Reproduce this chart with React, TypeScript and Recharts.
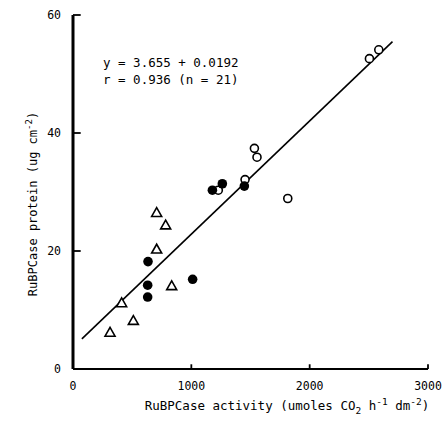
import React from 'react';
import { ScatterChart, Scatter, XAxis, YAxis, ReferenceLine, Label } from 'recharts';

// filled circles
const filledX = [634, 1011, 631, 631, 1178, 1262, 1448];
const filledY = [18.2, 15.2, 14.2, 12.2, 30.3, 31.4, 31.0];
// open circles
const openX = [1228, 1454, 1533, 1555, 1815, 2505, 2584];
const openY = [30.3, 32.1, 37.4, 35.9, 28.9, 52.6, 54.1];
// open triangles
const triX = [707, 783, 707, 834, 411, 510, 313];
const triY = [26.5, 24.4, 20.3, 14.1, 11.2, 8.2, 6.2];

const xTicks = [0, 1000, 2000, 3000];
const yTicks = [0, 20, 40, 60];

// regression: y = 3.655 + 0.0192x, drawn over this x range
const intercept = 3.655;
const slope = 0.0192;
const fitRange = [75, 2700];

const FONT = '"DejaVu Sans Mono", "Liberation Mono", monospace';

const toPoints = (xs: number[], ys: number[]) => xs.map((x, i) => ({ x, y: ys[i] }));

const FilledDot = ({ cx, cy }: any) => <circle cx={cx} cy={cy} r={4.8} fill="#000" />;
const OpenDot = ({ cx, cy }: any) => (
  <circle cx={cx} cy={cy} r={4} fill="#fff" stroke="#000" strokeWidth={1.6} />
);
const Triangle = ({ cx, cy }: any) => (
  <path
    d={`M${cx},${cy - 5} L${cx + 5},${cy + 3.8} L${cx - 5},${cy + 3.8} Z`}
    fill="#fff"
    stroke="#000"
    strokeWidth={1.6}
  />
);

const XLabel = () => (
  <text x={287} y={410} textAnchor="middle" fontFamily={FONT} fontSize={12.5} fill="#000">
    RuBPCase activity (umoles CO
    <tspan dy={4} fontSize={9.5}>2</tspan>
    <tspan dy={-4}> h</tspan>
    <tspan dy={-5} fontSize={9.5}>-1</tspan>
    <tspan dy={5}> dm</tspan>
    <tspan dy={-5} fontSize={9.5}>-2</tspan>
    <tspan dy={5}>)</tspan>
  </text>
);

const YLabel = () => (
  <text
    x={0}
    y={0}
    transform="translate(37,204) rotate(-90)"
    textAnchor="middle"
    fontFamily={FONT}
    fontSize={12}
    fill="#000"
  >
    RuBPCase protein (ug cm
    <tspan dy={-5} fontSize={9}>-2</tspan>
    <tspan dy={5}>)</tspan>
  </text>
);

export default function App() {
  const fit = fitRange.map((x) => ({ x, y: intercept + slope * x }));
  const tickStyle = { fontFamily: FONT, fontSize: 11.5, fill: '#000' };
  return (
    <div style={{ position: 'absolute', left: 0, top: 0, width: 443, height: 421, background: '#fff' }}>
      <ScatterChart width={443} height={421} margin={{ top: 15, right: 15, bottom: 0, left: 0 }}>
        <XAxis
          type="number"
          dataKey="x"
          domain={[0, 3000]}
          ticks={xTicks}
          height={52}
          tickLine={false}
          axisLine={false}
          tickSize={6}
          tickMargin={7}
          tick={tickStyle}
        >
          <Label content={<XLabel />} />
        </XAxis>
        <YAxis
          type="number"
          dataKey="y"
          domain={[0, 60]}
          ticks={yTicks}
          width={73}
          tickLine={false}
          axisLine={false}
          tickSize={4}
          tickMargin={8}
          tick={tickStyle}
        >
          <Label content={<YLabel />} />
        </YAxis>
        {/* axes */}
        <ReferenceLine segment={[{ x: 0, y: 0 }, { x: 0, y: 60 }]} stroke="#000" strokeWidth={3} ifOverflow="visible" />
        <ReferenceLine segment={[{ x: 0, y: 0 }, { x: 3000, y: 0 }]} stroke="#000" strokeWidth={2.2} ifOverflow="visible" />
        {yTicks.slice(1).map((v) => (
          <ReferenceLine
            key={`yt-${v}`}
            segment={[{ x: 0, y: v }, { x: 65, y: v }]}
            stroke="#000"
            strokeWidth={1.8}
            ifOverflow="visible"
          />
        ))}
        {xTicks.slice(1).map((v) => (
          <ReferenceLine
            key={`xt-${v}`}
            segment={[{ x: v, y: 0 }, { x: v, y: 0.8 }]}
            stroke="#000"
            strokeWidth={1.8}
            ifOverflow="visible"
          />
        ))}
        <ReferenceLine
          segment={[fit[0], fit[1]]}
          stroke="#000"
          strokeWidth={1.6}
          ifOverflow="visible"
        />
        <Scatter data={toPoints(triX, triY)} shape={<Triangle />} isAnimationActive={false} />
        <Scatter data={toPoints(openX, openY)} shape={<OpenDot />} isAnimationActive={false} />
        <Scatter data={toPoints(filledX, filledY)} shape={<FilledDot />} isAnimationActive={false} />
      </ScatterChart>
      <div
        style={{
          position: 'absolute',
          left: 103,
          top: 54,
          fontFamily: FONT,
          fontSize: 12.5,
          lineHeight: '17px',
          whiteSpace: 'pre',
          color: '#000',
        }}
      >
        {'y = 3.655 + 0.0192\nr = 0.936 (n = 21)'}
      </div>
    </div>
  );
}
